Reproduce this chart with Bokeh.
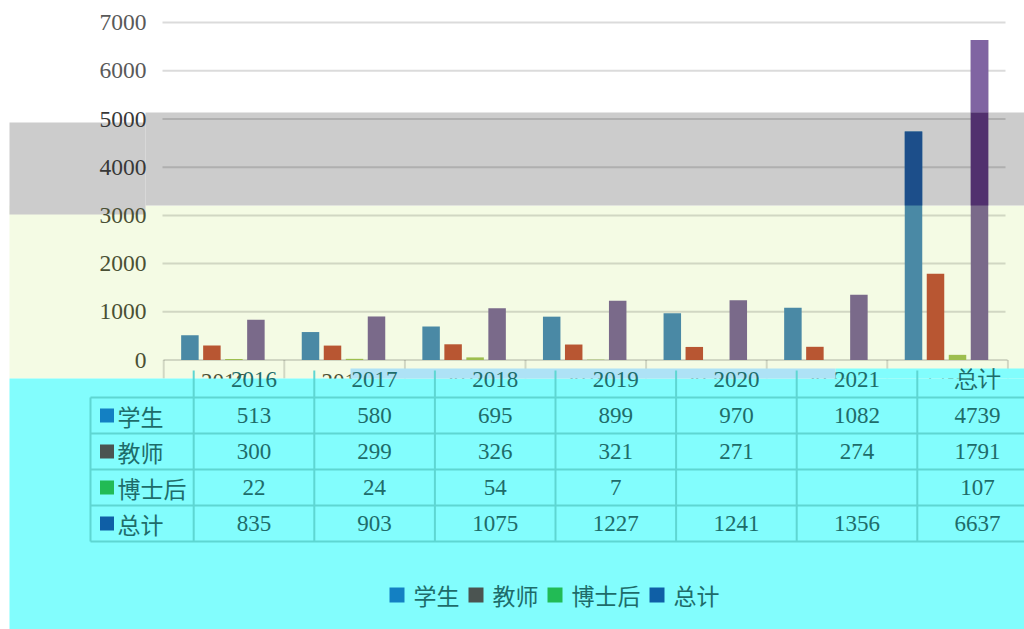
from bokeh.plotting import figure
from bokeh.models import Range1d, ColumnDataSource
from bokeh.core.properties import value
from bokeh.embed import file_html
from bokeh.resources import INLINE

# ---------------- data ----------------
categories = ["2016", "2017", "2018", "2019", "2020", "2021", "总计"]
series_names = ["学生", "教师", "博士后", "总计"]
students = [513, 580, 695, 899, 970, 1082, 4739]
teachers = [300, 299, 326, 321, 271, 274, 1791]
postdocs = [22, 24, 54, 7, None, None, 107]
totals = [835, 903, 1075, 1227, 1241, 1356, 6637]
y_ticks = [0, 1000, 2000, 3000, 4000, 5000, 6000, 7000]
y_tick_labels = ["0", "1000", "2000", "3000", "4000", "5000", "6000", "7000"]

series_values = [students, teachers, postdocs, totals]

# ---------------- styling ----------------
BAR_COLORS = ["#4A89A5", "#B85632", "#9DBE4E", "#7A6A8A"]      # in light-yellow area
BAND_COLORS = ["#1C4E8A", "#7E2E22", "#5E7D24", "#51306E"]     # inside grey band
TOP_COLORS = ["#4F81BD", "#C0504D", "#9BBB59", "#8064A2"]      # above the band (white)
KEY_COLORS = ["#1380C3", "#4B5451", "#22BB55", "#0F5FA6"]      # table / legend keys
YELLOW = "#F4FBE4"
GREY = "#CCCCCC"
CYAN = "#82FDFD"
STRIP = "#AEE2F6"
TABLE_LINE = "#5ED6D2"
TABLE_TEXT = "#1E6C6A"
SERIF = value("Liberation Serif")
CJK = value("Noto Sans CJK SC")

# ---------------- pixel layout helpers ----------------
W, H = 1024, 629
PX_CAT = 120.6
CAT0_PX = 223.5
ZERO_PY = 359.5
PY_PER_UNIT = 0.0482


def X(px):
    return (px - CAT0_PX) / PX_CAT


def Y(py):
    return (ZERO_PY - py) / PY_PER_UNIT


p = figure(width=W, height=H, x_range=Range1d(X(0), X(W)), y_range=Range1d(Y(H), Y(0)),
           x_axis_type=None, y_axis_type=None, toolbar_location=None,
           output_backend="svg", min_border=0, outline_line_color=None,
           background_fill_color="white", border_fill_color="white")

# backgrounds
p.quad(left=[X(9)], right=[X(W)], top=[Y(205)], bottom=[Y(378)], fill_color=YELLOW, line_color=None)
p.quad(left=[X(9)], right=[X(145)], top=[Y(122)], bottom=[Y(214)], fill_color=GREY, line_color=None)
p.quad(left=[X(145)], right=[X(W)], top=[Y(112)], bottom=[Y(205)], fill_color=GREY, line_color=None)

# grid lines
grid_vals = y_ticks[1:]
p.segment(x0=[X(162)] * len(grid_vals), x1=[X(1005)] * len(grid_vals), y0=grid_vals, y1=grid_vals,
          line_color="black", line_alpha=0.14, line_width=2)
# category axis
p.segment(x0=[X(163)], x1=[X(1007)], y0=[0], y1=[0], line_color="black", line_alpha=0.14, line_width=2)
ncat = len(categories)
bounds = [i - 0.5 for i in range(ncat + 1)]
p.segment(x0=bounds, x1=bounds, y0=[0] * len(bounds), y1=[Y(378)] * len(bounds),
          line_color="black", line_alpha=0.14, line_width=2)

# bars
idx = list(range(ncat))
BAR_W = 17.5 / PX_CAT
band_lo, band_hi = Y(205), Y(112)
for j, vals in enumerate(series_values):
    off = ((j - 1.5) * 22 - 1.1) / PX_CAT
    xs = [i + off for i in idx]
    tops = [float("nan") if v is None else v for v in vals]
    p.vbar(x=xs, top=tops, bottom=0, width=BAR_W, fill_color=BAR_COLORS[j], line_color=None)
    bx, bt = [], []
    ux, ut = [], []
    for x, v in zip(xs, vals):
        if v is not None and v > band_lo:
            bx.append(x)
            bt.append(min(v, band_hi))
        if v is not None and v > band_hi:
            ux.append(x)
            ut.append(v)
    if bx:
        p.vbar(x=bx, top=bt, bottom=band_lo, width=BAR_W, fill_color=BAND_COLORS[j], line_color=None)
    if ux:
        p.vbar(x=ux, top=ut, bottom=band_hi, width=BAR_W, fill_color=TOP_COLORS[j], line_color=None)

# y tick labels
tick_colors = []
for t in y_ticks:
    v_py = ZERO_PY - t * PY_PER_UNIT
    if v_py < 112:
        tick_colors.append("#595959")
    elif v_py < 205:
        tick_colors.append("#383838")
    else:
        tick_colors.append("#4A5034")
p.text(x=[X(146)] * len(y_ticks), y=y_ticks, text=y_tick_labels, text_align="right",
       text_baseline="middle", text_font=SERIF, text_font_size="23.5px", text_color=tick_colors)

# chart category labels
p.text(x=idx, y=[Y(381)] * ncat, text=categories, text_align="center", text_baseline="middle",
       text_font=SERIF, text_font_size="23px", text_color="#4A5034")

# cyan overlays
p.quad(left=[X(9)], right=[X(W)], top=[Y(378)], bottom=[Y(H)], fill_color=CYAN, line_color=None)
p.quad(left=[X(835)], right=[X(W)], top=[Y(368)], bottom=[Y(378)], fill_color=CYAN, line_color=None)
p.quad(left=[X(350)], right=[X(835)], top=[Y(368)], bottom=[Y(378)], fill_color=STRIP, line_color=None)

# data table
SHIFT = X(253.5)
row_py = [415 + 36 * r for r in range(len(series_names))]
h_lines = [397 + 36 * r for r in range(len(series_names) + 1)]
p.segment(x0=[X(90)] * len(h_lines), x1=[X(W)] * len(h_lines), y0=[Y(v) for v in h_lines],
          y1=[Y(v) for v in h_lines], line_color=TABLE_LINE, line_width=2)
p.segment(x0=[X(90)], x1=[X(90)], y0=[Y(397)], y1=[Y(541)], line_color=TABLE_LINE, line_width=2)
col_bounds = [i + SHIFT - 0.5 for i in range(ncat + 1)]
p.segment(x0=col_bounds, x1=col_bounds, y0=[Y(370)] * len(col_bounds), y1=[Y(541)] * len(col_bounds),
          line_color=TABLE_LINE, line_width=2)

p.text(x=[i + SHIFT for i in idx], y=[Y(379)] * ncat, text=categories, text_align="center",
       text_baseline="middle", text_font=SERIF, text_font_size="23px", text_color=TABLE_TEXT)

cell_src = dict(x=[], y=[], t=[])
for r, vals in enumerate(series_values):
    for i, v in enumerate(vals):
        if v is None:
            continue
        cell_src["x"].append(i + SHIFT)
        cell_src["y"].append(Y(row_py[r]))
        cell_src["t"].append(str(v))
p.text(x="x", y="y", text="t", source=ColumnDataSource(cell_src), text_align="center",
       text_baseline="middle", text_font=SERIF, text_font_size="23px", text_color=TABLE_TEXT)

# row headers
p.quad(left=[X(99.5)] * 4, right=[X(113.5)] * 4, top=[Y(py - 7) for py in row_py],
       bottom=[Y(py + 7) for py in row_py], fill_color=KEY_COLORS, line_color=None)
p.text(x=[X(117)] * 4, y=[Y(py) for py in row_py], text=series_names, text_align="left",
       text_baseline="middle", text_font=CJK, text_font_size="23px", text_color=TABLE_TEXT)

# legend (bottom)
FS = 23
lx = 389.0
sq_l, sq_r, txt_x = [], [], []
for name in series_names:
    sq_l.append(X(lx))
    sq_r.append(X(lx + 15))
    txt_x.append(X(lx + 24))
    lx = lx + 24 + FS * len(name) + 9
LEG_PY = 594.5
p.quad(left=sq_l, right=sq_r, top=[Y(LEG_PY - 7.5)] * 4, bottom=[Y(LEG_PY + 7.5)] * 4,
       fill_color=KEY_COLORS, line_color=None)
p.text(x=txt_x, y=[Y(LEG_PY - 0.5)] * 4, text=series_names, text_align="left", text_baseline="middle",
       text_font=CJK, text_font_size="23px", text_color=TABLE_TEXT)

open("out.html", "w").write(file_html(p, INLINE))
